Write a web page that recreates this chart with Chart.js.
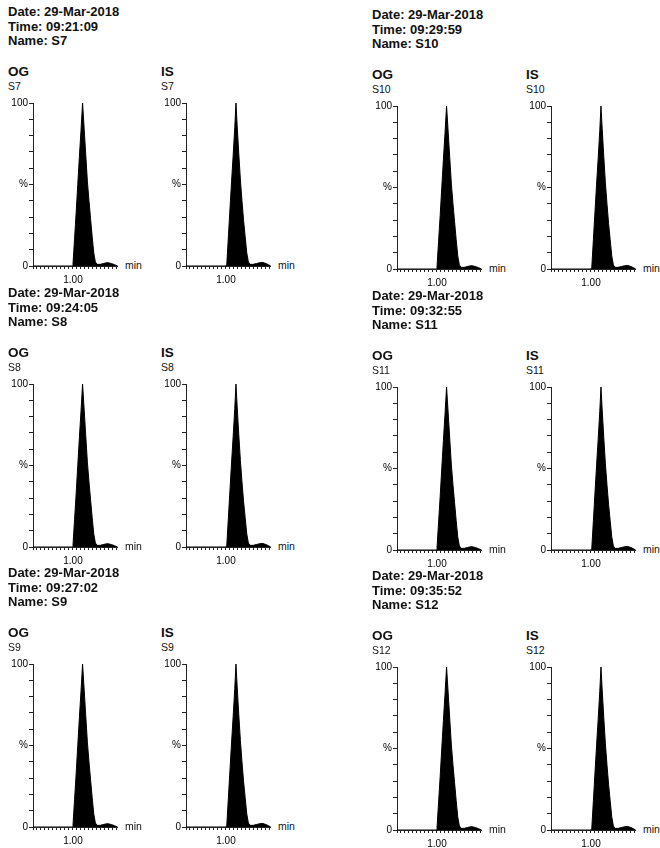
<!DOCTYPE html>
<html>
<head>
<meta charset="utf-8">
<script src="https://cdn.jsdelivr.net/npm/chart.js@4.4.1/dist/chart.umd.min.js"></script>
<style>
  body { margin:0; background:#fff; width:660px; height:848px; position:relative; overflow:hidden;
         font-family:"Liberation Sans", Arial, sans-serif; color:#111; }
  .txt { position:absolute; white-space:nowrap; }
  .head { font-size:13px; font-weight:bold; line-height:14.7px; }
  .trace { font-size:13.5px; font-weight:bold; line-height:13.5px; }
  .sample { font-size:10.5px; line-height:10.5px; }
  .unit { font-size:10.5px; line-height:10.5px; }
  canvas { position:absolute; }
</style>
</head>
<body>
<script>
// run info
const runDate = "29-Mar-2018";
const sampleNames = ["S7", "S8", "S9", "S10", "S11", "S12"];
const runTimes = ["09:21:09", "09:24:05", "09:27:02", "09:29:59", "09:32:55", "09:35:52"];
const traceNames = ["OG", "IS"];

// chromatograms (min, % of max) - same shape in every sample
const ogTime   = [0.50, 0.99, 1.00, 1.02, 1.04, 1.06, 1.08, 1.10, 1.12, 1.14, 1.16, 1.18, 1.20, 1.22, 1.24, 1.26, 1.28, 1.30, 1.34, 1.38, 1.42, 1.44, 1.48, 1.52, 1.56];
const ogSignal = [0,    0,    1,    17,   33,   50,   67,   83,   100,  84,   68,   52,   40,   29,   18,   8,    2.5,  1,    1,    1.5,  2,    2,    1.5,  0.8,  0];
const isTime   = [0.50, 1.00, 1.01, 1.03, 1.05, 1.07, 1.09, 1.11, 1.125, 1.14, 1.16, 1.18, 1.20, 1.22, 1.24, 1.26, 1.28, 1.30, 1.34, 1.38, 1.42, 1.46, 1.50, 1.53, 1.56];
const isSignal = [0,    0,    1,    18,   35,   52,   68,   85,   100,   86,   69,   53,   40,   28,   18,   8,    2.5,  1,    1,    1.5,  2,    2.2,  1.5,  0.8,  0];

// axes
const xMin = 0.5, xMax = 1.56, xStep = 0.05;
const yTickLabels = { 0: "0", 50: "%", 100: "100" };
const xTickLabel = "1.00";

// layout: y-axis x of OG / IS and top (100 %) per sample
const panelAxisX = [[33, 186], [33, 186], [33, 186], [397, 551], [397, 551], [397, 551]];
const panelTop = [103, 384, 664, 106, 387, 667];
const plotW = 85, plotH = 163;

function addText(cls, text, x, y) {
  const d = document.createElement("div");
  d.className = "txt " + cls;
  d.textContent = text;
  d.style.left = x + "px";
  d.style.top = y + "px";
  document.body.appendChild(d);
  return d;
}

function makeChart(ax, ty, time, signal) {
  const cv = document.createElement("canvas");
  cv.width = 28 + plotW + 4;
  cv.height = 8 + plotH + 22;
  document.body.appendChild(cv);
  const chart = new Chart(cv, {
    type: "line",
    data: {
      datasets: [{
        data: time.map((t, i) => ({ x: t, y: signal[i] })),
        borderColor: "#000",
        backgroundColor: "#000",
        borderWidth: 1,
        pointRadius: 0,
        fill: "origin",
        tension: 0
      }]
    },
    options: {
      responsive: false,
      animation: false,
      devicePixelRatio: 1,
      layout: { padding: { top: 8, right: 4, left: 0, bottom: 0 } },
      plugins: { legend: { display: false }, tooltip: { enabled: false } },
      scales: {
        x: {
          type: "linear", min: xMin, max: xMax,
          afterFit: s => { s.height = 22; },
          grid: { drawOnChartArea: false, tickLength: 3, color: "#222" },
          border: { color: "#222" },
          ticks: {
            stepSize: xStep, includeBounds: false, autoSkip: false, maxRotation: 0,
            padding: 5, color: "#000", font: { size: 10 },
            callback: v => Math.abs(v - 1) < 1e-6 ? xTickLabel : ""
          }
        },
        y: {
          min: 0, max: 100,
          afterFit: s => { s.width = 28; },
          grid: { drawOnChartArea: false, tickLength: 4, color: "#222" },
          border: { color: "#222" },
          ticks: {
            stepSize: 10, padding: 1, color: "#000", font: { size: 10 },
            callback: v => yTickLabels[v] ?? ""
          }
        }
      }
    }
  });
  const a = chart.chartArea;
  cv.style.left = (ax - a.left) + "px";
  cv.style.top = (ty - a.top) + "px";
}

Chart.defaults.font.family = '"Liberation Sans", Arial, sans-serif';

sampleNames.forEach((name, i) => {
  const ty = panelTop[i];
  const hx = panelAxisX[i][0] - 25;
  addText("head", "Date: " + runDate, hx, ty - 98);
  addText("head", "Time: " + runTimes[i], hx, ty - 98 + 14.7);
  addText("head", "Name: " + name, hx, ty - 98 + 29.4);

  traceNames.forEach((trace, k) => {
    const ax = panelAxisX[i][k];
    addText("trace", trace, ax - 25, ty - 38.5);
    addText("sample", name, ax - 25, ty - 22);
    if (k === 0) makeChart(ax, ty, ogTime, ogSignal);
    else makeChart(ax, ty, isTime, isSignal);
    addText("unit", "min", ax + plotW + 7, ty + plotH - 6);
  });
});
</script>
</body>
</html>
